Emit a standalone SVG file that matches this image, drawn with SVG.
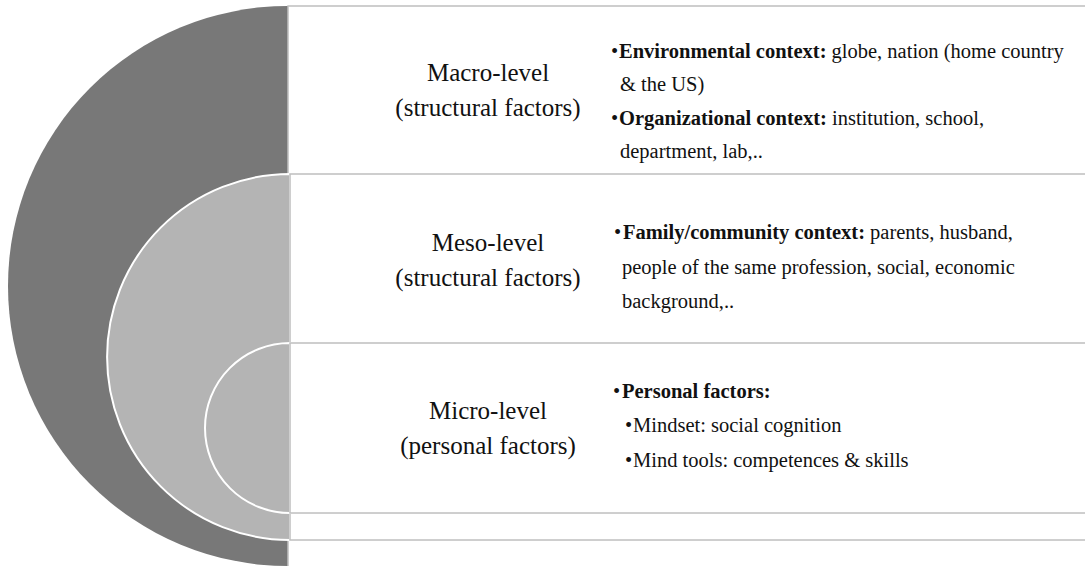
<svg xmlns="http://www.w3.org/2000/svg" width="1085" height="566" viewBox="0 0 1085 566">
  <style>
    .box { fill: #ffffff; stroke: #bfbfbf; stroke-width: 1.5; }
    .dark { fill: #787878; }
    .light { fill: #b4b4b4; stroke: #ffffff; stroke-width: 2; }
    .title { font-family: "Liberation Serif", "Times New Roman", serif; font-size: 25px; fill: #111111; text-anchor: middle; }
    .item { font-family: "Liberation Serif", "Times New Roman", serif; font-size: 20.5px; fill: #111111; }
    .b { font-weight: bold; }
  </style>

  <!-- Macro level: outer half disc and its panel -->
  <g id="macro">
    <path class="dark" d="M288 6 A280 280 0 0 0 288 566 Z"/>
    <rect class="box" x="288" y="6" width="810" height="564"/>
    <text class="title" x="488" y="81">Macro-level</text>
    <text class="title" x="488" y="116">(structural factors)</text>
    <text class="item" x="611" y="58">•</text>
    <text class="item" x="619" y="58"><tspan class="b">Environmental context:</tspan> globe, nation (home country</text>
    <text class="item" x="620" y="91">&amp; the US)</text>
    <text class="item" x="611" y="125">•</text>
    <text class="item" x="619" y="125"><tspan class="b">Organizational context:</tspan> institution, school,</text>
    <text class="item" x="620" y="158">department, lab,..</text>
  </g>

  <!-- Meso level: middle half disc and its panel -->
  <g id="meso">
    <path class="light" d="M290 174 A183 183 0 0 0 290 540 Z"/>
    <rect class="box" x="290" y="174" width="808" height="366"/>
    <text class="title" x="488" y="251">Meso-level</text>
    <text class="title" x="488" y="286">(structural factors)</text>
    <text class="item" x="614" y="239">•</text>
    <text class="item" x="623" y="239"><tspan class="b">Family/community context:</tspan> parents, husband,</text>
    <text class="item" x="622" y="274">people of the same profession, social, economic</text>
    <text class="item" x="622" y="308">background,..</text>
  </g>

  <!-- Micro level: inner half disc and its panel -->
  <g id="micro">
    <path class="light" d="M290 343 A85 85 0 0 0 290 513 Z"/>
    <rect class="box" x="290" y="343" width="808" height="170"/>
    <text class="title" x="488" y="419">Micro-level</text>
    <text class="title" x="488" y="454">(personal factors)</text>
    <text class="item" x="613" y="398">•</text>
    <text class="item b" x="622" y="398">Personal factors:</text>
    <text class="item" x="625" y="432">•</text>
    <text class="item" x="633" y="432">Mindset: social cognition</text>
    <text class="item" x="625" y="467">•</text>
    <text class="item" x="633" y="467">Mind tools: competences &amp; skills</text>
  </g>

  <!-- no connectors in this figure -->
  <g id="connectors"/>
</svg>
